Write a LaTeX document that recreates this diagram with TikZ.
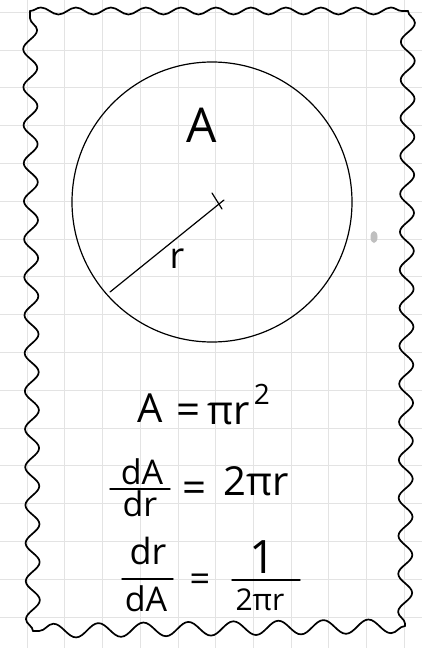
\documentclass[tikz,border=0pt]{standalone}
\usepackage{fontspec}
\setmainfont{Open Sans}
\usetikzlibrary{decorations.pathmorphing}
\tikzset{
  gridline/.style={draw=black!11, line width=0.6pt},
  ink/.style={draw=black, line width=1.3pt, line cap=round, line join=round},
  border/.style={ink, line width=1.7pt},
  hand/.style={inner sep=0pt, text=black},
  fbar/.style={ink, line width=1.4pt},
}
\newcommand{\fsz}[1]{\fontsize{#1}{#1}\selectfont}
\begin{document}
\begin{tikzpicture}[x=1pt,y=-1pt]
\useasboundingbox (0,0) rectangle (422,648);
\fill[white] (0,0) rectangle (422,648);
% grid paper
\foreach \i in {0,...,10} \draw[gridline] (27+37.7*\i,0) -- ++(0,648);
\foreach \j in {0,...,16} \draw[gridline] (0,12+37.8*\j) -- ++(422,0);
% smudge
\fill[black!25] (374,237) ellipse [x radius=3.5pt, y radius=6pt];
% wavy border
\coordinate (tl) at (30,11);
\coordinate (tr) at (408,11);
\coordinate (br) at (405,626);
\coordinate (bl) at (33,631);
\draw[border, decorate, decoration={snake, amplitude=3.5pt, segment length=35pt}] (tl) -- (tr);
\draw[border, decorate, decoration={snake, amplitude=7pt, segment length=38pt}] (tr) -- (br);
\draw[border, decorate, decoration={snake, amplitude=7pt, segment length=45pt}] (br) -- (bl);
\draw[border, decorate, decoration={snake, amplitude=7pt, segment length=38pt}] (bl) -- (tl);
% circle
\node[circle, ink, line width=1.2pt, minimum size=280pt, inner sep=0pt] (circ) at (212,202) {};
\coordinate (ctr) at (224,200);
\coordinate (rend) at (110,292);
\coordinate (t1) at (212,193);
\coordinate (t2) at (222,209);
\draw[ink, line width=1.2pt] (rend) -- (ctr);
\draw[ink, line width=1.2pt] (t1) -- (t2);
\node[hand, font=\fsz{48}] (Alab) at (202,125) {A};
\node[hand, font=\fsz{36}] (rlab) at (177,259) {r};
% equation 1
\node[hand, font=\fsz{40}] (e1a) at (150,408) {A};
\node[hand, font=\fsz{42}] (e1eq) at (189,414) {=};
\node[hand, font=\fsz{40}] (e1pr) at (229,414) {πr};
\node[hand, font=\fsz{28}] (e1sq) at (262,394) {2};
% equation 2
\node[hand, font=\fsz{34}] (e2n) at (142,472) {dA};
\node[hand, font=\fsz{34}] (e2d) at (140,504) {dr};
\coordinate (b2a) at (110,489);
\coordinate (b2b) at (170,489);
\draw[fbar] (b2a) -- (b2b);
\node[hand, font=\fsz{42}] (e2eq) at (195,492) {=};
\node[hand, font=\fsz{40}] (e2r) at (256,481) {2πr};
% equation 3
\node[hand, font=\fsz{36}] (e3n) at (148,551) {dr};
\node[hand, font=\fsz{34}] (e3d) at (146,599) {dA};
\coordinate (b3a) at (122,579);
\coordinate (b3b) at (173,579);
\draw[fbar] (b3a) -- (b3b);
\node[hand, font=\fsz{36}] (e3eq) at (200,583) {=};
\node[hand, font=\fsz{46}] (e3one) at (263,557) {1};
\coordinate (b4a) at (232,580);
\coordinate (b4b) at (300,580);
\draw[fbar] (b4a) -- (b4b);
\node[hand, font=\fsz{30}] (e3den) at (260,600) {2πr};
\end{tikzpicture}
\end{document}
